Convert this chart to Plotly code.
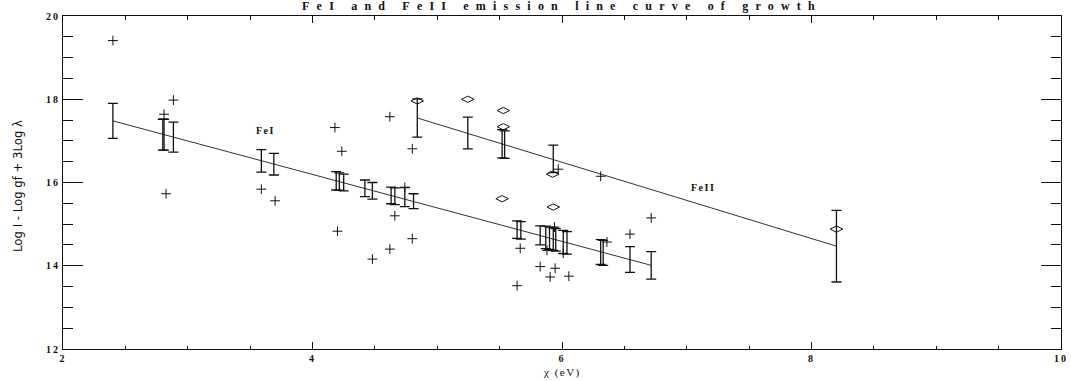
import plotly.graph_objects as go

TITLE = "FeI and FeII emission line curve of growth"
X_LABEL = "χ (eV)"
Y_LABEL = "Log I - Log gf + 3Log λ"

# FeI individual lines (plus symbols)
fe1_x = [2.40, 2.81, 2.885, 2.826, 3.59, 3.70, 4.18, 4.235, 4.62, 4.80,
         4.20, 4.48, 4.62, 4.66, 4.80, 4.74, 5.64, 5.665, 5.825, 5.905,
         5.945, 6.055, 5.88, 5.94, 6.01, 5.97, 6.31, 6.36, 6.545, 6.715]
fe1_y = [19.41, 17.64, 17.98, 15.73, 15.84, 15.56, 17.32, 16.75, 17.58, 16.81,
         14.83, 14.16, 14.40, 15.20, 14.65, 15.88, 13.52, 14.42, 13.98, 13.73,
         13.94, 13.75, 14.37, 14.93, 14.30, 16.32, 16.15, 14.57, 14.76, 15.15]

# FeI error bars
fe1_bar_x = [2.40, 2.80, 2.81, 2.885, 3.59, 3.69, 4.19, 4.215, 4.25, 4.42,
             4.48, 4.63, 4.66, 4.74, 4.81, 5.64, 5.67, 5.825, 5.87, 5.90,
             5.93, 5.95, 6.01, 6.04, 6.31, 6.33, 6.545, 6.715]
fe1_bar_y = [17.48, 17.15, 17.15, 17.09, 16.52, 16.44, 16.04, 16.02, 16.00, 15.86,
             15.80, 15.69, 15.67, 15.65, 15.55, 14.87, 14.85, 14.73, 14.68, 14.66,
             14.64, 14.62, 14.57, 14.55, 14.33, 14.31, 14.15, 14.01]
fe1_bar_err = [0.42, 0.37, 0.37, 0.36, 0.27, 0.26, 0.22, 0.21, 0.20, 0.20,
               0.20, 0.20, 0.20, 0.23, 0.18, 0.21, 0.21, 0.23, 0.27, 0.27,
               0.27, 0.27, 0.28, 0.27, 0.30, 0.30, 0.31, 0.33]

# FeII individual lines (diamonds)
fe2_x = [4.84, 5.245, 5.53, 5.53, 5.925, 5.52, 5.93, 8.20]
fe2_y = [17.96, 18.00, 17.73, 17.34, 16.20, 15.61, 15.41, 14.88]

# FeII error bars
fe2_bar_x = [4.84, 5.245, 5.52, 5.54, 5.93, 8.20]
fe2_bar_y = [17.55, 17.19, 16.93, 16.91, 16.57, 14.47]
fe2_bar_err = [0.46, 0.38, 0.34, 0.33, 0.33, 0.86]

# fitted lines (end points)
fe1_fit_x = [2.40, 6.715]
fe1_fit_y = [17.48, 14.01]
fe2_fit_x = [4.84, 8.20]
fe2_fit_y = [17.55, 14.47]

x_ticks = [2, 4, 6, 8, 10]
y_ticks = [12, 14, 16, 18, 20]

SERIF = "Liberation Serif"
INK = "#111"


def spaced(s, px):
    return f'<span style="letter-spacing:{px}px">{s}</span>'


fig = go.Figure()

fig.add_trace(go.Scatter(x=fe1_fit_x, y=fe1_fit_y, mode="lines",
                         line=dict(color="#333", width=1), showlegend=False))
fig.add_trace(go.Scatter(x=fe2_fit_x, y=fe2_fit_y, mode="lines",
                         line=dict(color="#333", width=1), showlegend=False))

for bx, by, be in [(fe1_bar_x, fe1_bar_y, fe1_bar_err),
                   (fe2_bar_x, fe2_bar_y, fe2_bar_err)]:
    fig.add_trace(go.Scatter(
        x=bx, y=by, mode="markers",
        marker=dict(size=1, color="rgba(0,0,0,0)"),
        error_y=dict(type="data", array=be, symmetric=True,
                     color=INK, thickness=1.3, width=5),
        showlegend=False))

fig.add_trace(go.Scatter(x=fe1_x, y=fe1_y, mode="markers",
                         marker=dict(symbol="cross-thin-open", size=7, color=INK,
                                     line=dict(color=INK, width=1)),
                         showlegend=False))
fig.add_trace(go.Scatter(x=fe2_x, y=fe2_y, mode="markers",
                         marker=dict(symbol="diamond-wide-open", size=9,
                                     color=INK,
                                     line=dict(color=INK, width=1)),
                         showlegend=False))

fig.add_annotation(x=3.62, y=17.26, text=spaced("FeI", 1.5), showarrow=False,
                   font=dict(family=SERIF, size=10, color=INK, weight="bold"))
fig.add_annotation(x=7.13, y=15.87, text=spaced("FeII", 1.5), showarrow=False,
                   font=dict(family=SERIF, size=10, color=INK, weight="bold"))

# axis titles as paper annotations
fig.add_annotation(x=0.5, y=-0.07, xref="paper", yref="paper",
                   xanchor="center", yanchor="middle",
                   text=spaced(X_LABEL, 1.5), showarrow=False,
                   font=dict(family=SERIF, size=11, color=INK))
fig.add_annotation(x=-0.045, y=0.49, xref="paper", yref="paper",
                   xanchor="center", yanchor="middle", textangle=-90,
                   text=Y_LABEL, showarrow=False,
                   font=dict(family="DejaVu Sans Condensed", size=13, color=INK))

fig.update_layout(
    width=1071, height=381,
    margin=dict(l=63, r=10, t=16, b=32),
    paper_bgcolor="white", plot_bgcolor="white",
    title=dict(text=spaced(TITLE, 7.2), x=0.5, xref="paper",
               y=0.997, yref="container", yanchor="top",
               font=dict(family=SERIF, size=12, color=INK, weight="bold")),
)

axis_common = dict(showgrid=False, zeroline=False, showline=True,
                   linecolor=INK, linewidth=1, mirror="allticks",
                   ticks="inside", tickcolor=INK, tickwidth=1,
                   automargin=False)

fig.update_xaxes(range=[2, 10], tickvals=x_ticks,
                 ticktext=[spaced(str(v), 2) for v in x_ticks],
                 ticklen=7,
                 minor=dict(dtick=0.5, ticklen=3.5, ticks="inside",
                            tickcolor=INK, showgrid=False),
                 tickfont=dict(family=SERIF, size=10, color=INK, weight="bold"),
                 **axis_common)
fig.update_yaxes(range=[12, 20], tickvals=y_ticks,
                 ticktext=[spaced(str(v), 2) for v in y_ticks],
                 ticklen=20,
                 minor=dict(dtick=0.5, ticklen=10, ticks="inside",
                            tickcolor=INK, showgrid=False),
                 tickfont=dict(family=SERIF, size=10, color=INK, weight="bold"),
                 **axis_common)

fig.write_html("out.html")
